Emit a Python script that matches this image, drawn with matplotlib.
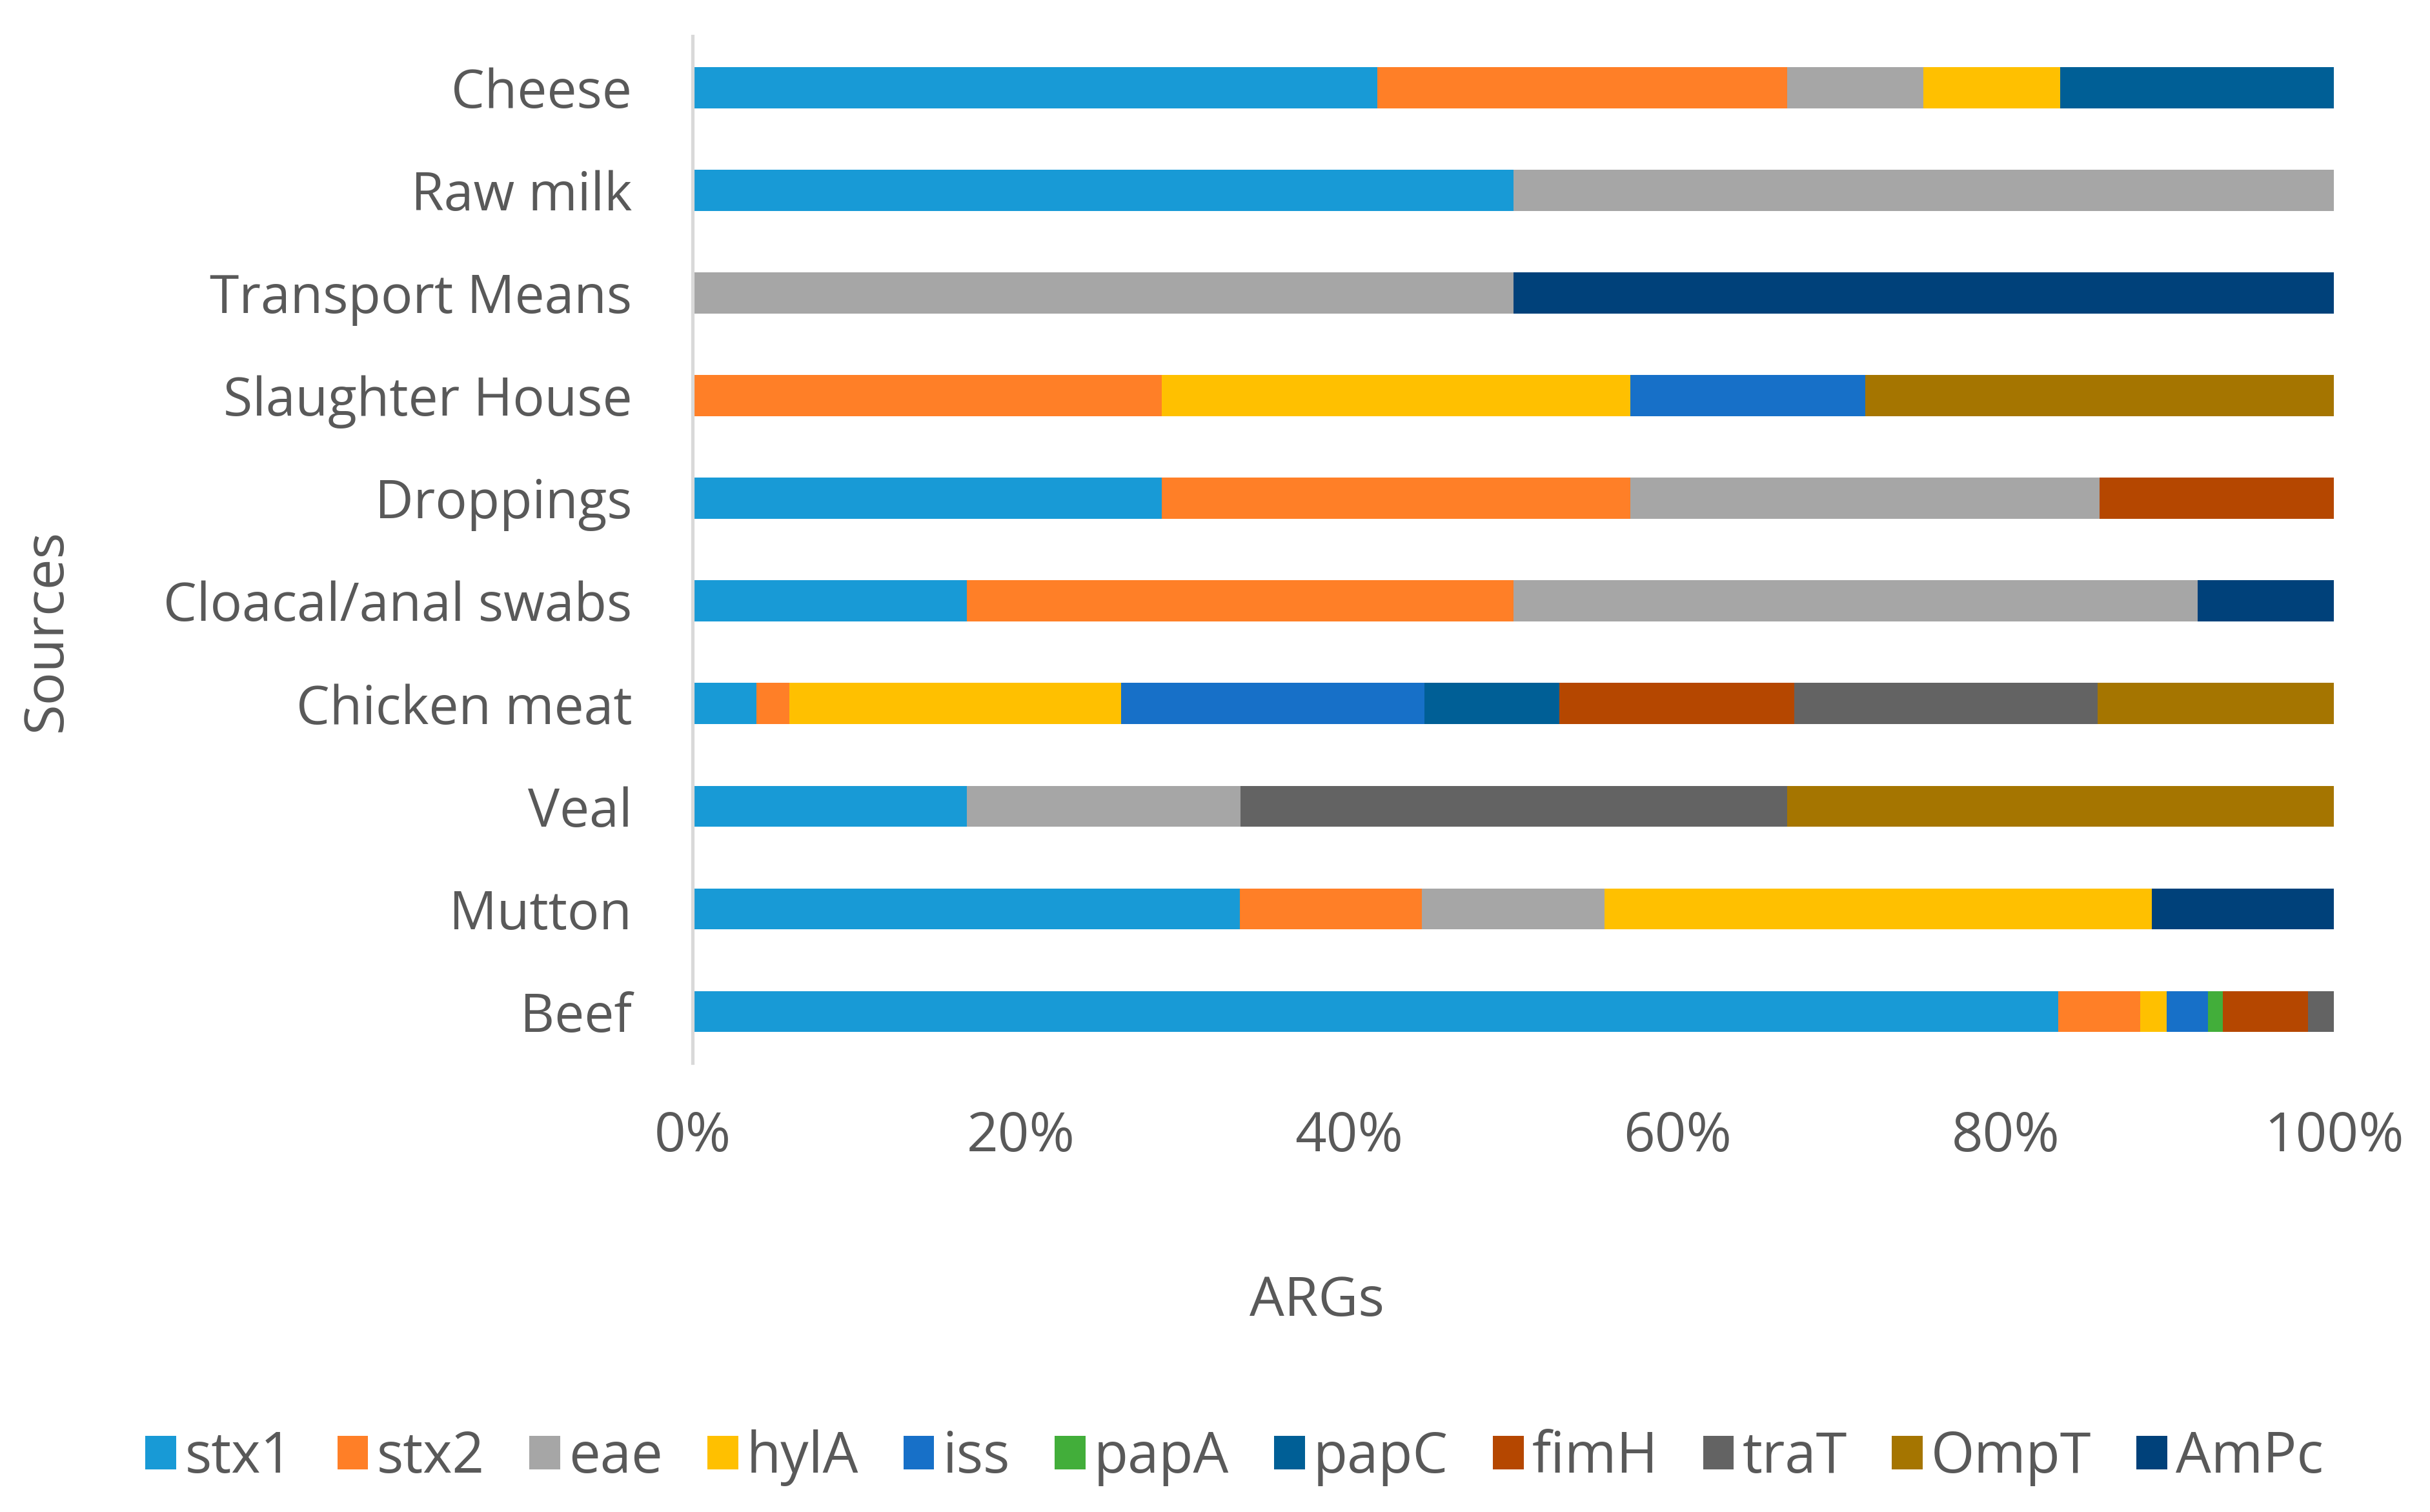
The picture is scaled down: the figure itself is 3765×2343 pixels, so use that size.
import matplotlib.pyplot as plt
import numpy as np
from matplotlib.ticker import PercentFormatter

plt.rcParams["font.family"] = ["Open Sans", "DejaVu Sans"]

sources = ["Cheese", "Raw milk", "Transport Means", "Slaughter House", "Droppings",
           "Cloacal/anal swabs", "Chicken meat", "Veal", "Mutton", "Beef"]
genes = ["stx1", "stx2", "eae", "hylA", "iss", "papA", "papC", "fimH", "traT", "OmpT", "AmPc"]

# share of each gene per source (%)
stx1 = [41.7, 50.0, 0, 0, 28.6, 16.7, 3.9, 16.7, 33.3, 83.3]
stx2 = [25.0, 0, 0, 28.6, 28.6, 33.3, 2.0, 0, 11.1, 5.0]
eae = [8.3, 50.0, 50.0, 0, 28.6, 41.7, 0, 16.7, 11.1, 0]
hylA = [8.3, 0, 0, 28.6, 0, 0, 20.2, 0, 33.3, 1.6]
iss = [0, 0, 0, 14.3, 0, 0, 18.5, 0, 0, 2.5]
papA = [0, 0, 0, 0, 0, 0, 0, 0, 0, 0.9]
papC = [16.7, 0, 0, 0, 0, 0, 8.2, 0, 0, 0]
fimH = [0, 0, 0, 0, 14.3, 0, 14.3, 0, 0, 5.2]
traT = [0, 0, 0, 0, 0, 0, 18.5, 33.3, 0, 1.6]
OmpT = [0, 0, 0, 28.6, 0, 0, 14.4, 33.3, 0, 0]
AmPc = [0, 0, 50.0, 0, 0, 8.3, 0, 0, 11.1, 0]

colors = ["#189AD6", "#FF7F27", "#A6A6A6", "#FFC000", "#1770C8", "#42AE3A",
          "#005F96", "#B54700", "#636363", "#A57500", "#00417A"]
text_col = "#595959"

data = np.array([stx1, stx2, eae, hylA, iss, papA, papC, fimH, traT, OmpT, AmPc], dtype=float)
data = data / data.sum(axis=0) * 100  # 100% stacked

fig = plt.figure(figsize=(15.06, 9.372), dpi=250)
ax = fig.add_axes([0.2850, 0.297, 0.6755, 0.679])

y = np.arange(len(sources))
left = np.zeros(len(sources))
for gene, vals, c in zip(genes, data, colors):
    ax.barh(y, vals, left=left, height=0.4, color=c, label=gene)
    left += vals

ax.set_ylim(len(sources) - 0.5, -0.5)
ax.set_xlim(0, 100)
ax.set_xticks(np.arange(0, 101, 20))
ax.xaxis.set_major_formatter(PercentFormatter(decimals=0))
ax.set_yticks(y)
ax.set_yticklabels(sources)

for s in ["top", "right", "bottom"]:
    ax.spines[s].set_visible(False)
ax.spines["left"].set_color("#D9D9D9")
ax.spines["left"].set_linewidth(1.5)

ax.tick_params(axis="x", length=0, pad=21, labelsize=24.5, labelcolor=text_col)
ax.tick_params(axis="y", length=0, pad=27, labelsize=23.7, labelcolor=text_col)

fig.text(0.542, 0.139, "ARGs", ha="center", va="center", fontsize=24.5, color=text_col)
fig.text(0.0193, 0.583, "Sources", ha="center", va="center", rotation=90,
         fontsize=24.5, color=text_col)

handles, labels = ax.get_legend_handles_labels()
fig.legend(handles, labels, loc="center", bbox_to_anchor=(0.508, 0.036), ncol=11,
           frameon=False, fontsize=25, labelcolor=text_col, handlelength=0.55,
           handleheight=0.55, handletextpad=0.15, columnspacing=0.8)

fig.savefig("out.png", dpi=250)
